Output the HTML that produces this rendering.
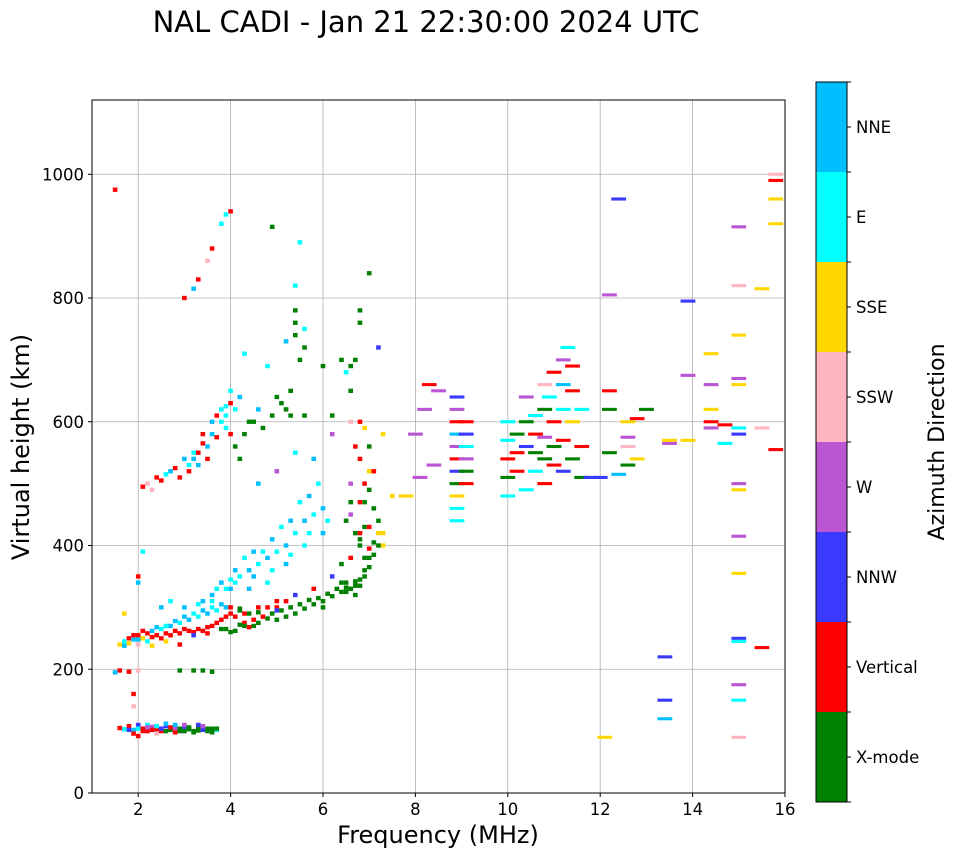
<!DOCTYPE html>
<html><head><meta charset="utf-8">
<style>
html,body{margin:0;padding:0;background:#fff;}
svg{display:block;font-family:"DejaVu Sans","Liberation Sans",sans-serif;}
</style></head>
<body>
<svg id="chart" width="958" height="857" viewBox="0 0 958 857">
<text x="426" y="32" font-size="29" text-anchor="middle">NAL CADI - Jan 21 22:30:00 2024 UTC</text>
<g id="grid"></g>
<g id="marks"></g>
<rect x="92" y="100" width="693" height="693" fill="none" stroke="#000" stroke-width="1"/>
<g id="xticks"></g>
<g id="yticks"></g>
<text x="438" y="843" font-size="24" text-anchor="middle">Frequency (MHz)</text>
<text transform="translate(29,447) rotate(-90)" font-size="24" text-anchor="middle">Virtual height (km)</text>
<g id="cbar"></g>
<text transform="translate(944,442) rotate(-90)" font-size="22" text-anchor="middle">Azimuth Direction</text>
</svg>
<script>
const directions = ["X-mode","Vertical","NNW","W","SSW","SSE","E","NNE"];
const dirColors = ["#008000","#ff0000","#3a3aff","#ba55d3","#ffb6c1","#ffd700","#00ffff","#00bfff"];
const xTicks = [2,4,6,8,10,12,14,16];
const yTicks = [0,200,400,600,800,1000];

const eLayer = [[1.6,105,1],[1.7,103,6],[1.8,108,1],[1.9,102,7],[2.0,110,2],[2.1,104,1],[2.2,100,1],[2.3,107,3],[2.4,103,1],[2.5,100,1],[2.6,108,2],[2.7,102,0],[2.8,105,3],[2.9,100,0],[3.0,107,2],[3.1,103,0],[3.2,100,0],[3.3,105,0],[3.4,102,2],[3.5,100,0],[3.6,104,0],[3.7,102,6],[2.2,110,6],[2.6,112,7],[3.0,110,3],[3.3,110,2],[1.9,96,1],[2.4,96,4],[2.8,98,1],[3.2,98,0],[3.6,98,0],
[1.6,198,1],[1.8,196,1],[2.0,198,4],[2.9,198,0],[3.2,198,0],[3.4,198,0],[3.6,196,0],
[2.1,100,1],[2.3,102,1],[2.5,104,2],[2.7,106,1],[2.9,104,0],[3.1,106,0],[3.3,101,0],[3.5,104,0],[3.7,104,0],[2.0,104,6],[2.4,108,6],[2.8,110,7],[3.4,108,3],[1.8,102,2],[2.2,106,3],[2.6,100,0],[3.0,100,0],[2.0,92,1],[1.9,140,4],[1.9,160,1]];
const fLow = [[1.6,240,5],[1.7,245,6],[1.8,250,1],[1.9,248,7],[2.0,255,1],[2.1,250,5],[2.2,258,1],[2.3,262,7],[2.4,255,1],[2.5,265,6],[2.6,258,1],[2.7,270,7],[2.8,262,1],[2.9,275,6],[3.0,265,1],[3.1,280,7],[3.2,260,1],[3.3,285,6],[3.4,262,1],[3.5,290,7],[3.6,270,1],[3.7,295,6],[3.8,280,1],[3.9,300,7],[2.0,240,4],[2.3,238,5],[2.6,245,5],[2.9,240,1],[3.2,255,2],[3.5,258,1]];
const fDense = [[1.7,238,7],[1.8,242,5],[1.9,255,1],[2.0,248,7],[2.1,262,1],[2.2,245,6],[2.3,252,1],[2.4,268,7],[2.5,250,1],[2.6,270,6],[2.7,255,1],[2.8,278,7],[2.9,258,1],[3.0,285,7],[3.1,262,1],[3.2,290,6],[3.3,265,1],[3.4,295,7],[3.5,268,1],[3.6,300,6],[3.7,275,1],[3.8,305,7],[3.9,285,1],[4.0,290,1],[4.1,285,1],[4.2,295,0],[4.3,275,1],[4.4,290,0],[4.5,280,1],[4.6,292,0],[4.7,285,1],[4.8,300,1],[4.9,290,0],[5.0,300,1],[5.1,295,0],[5.2,310,1],[5.3,300,0],[5.5,305,0],[5.7,312,0],[5.9,315,0],[6.1,322,0],[6.3,330,0],[6.5,332,0],[6.7,342,0],[6.9,360,0],[7.0,380,0],[7.1,405,0],[6.6,330,0],[6.5,325,0],[6.7,335,0],[6.8,345,0],[6.4,340,0],[3.9,265,0],[4.1,262,0],[4.3,270,0],[4.5,270,0],
[3.4,310,7],[3.6,310,6],[3.8,340,7],[4.0,330,7],[4.2,350,6],[4.4,360,7],[4.6,370,6],[4.8,380,7],[5.0,390,6],[5.2,400,7],[5.4,420,6],[5.6,440,7],[5.8,450,6],[6.0,460,7],[3.7,330,6],[4.1,340,6],[4.5,390,7],[4.9,360,6],[5.3,385,6],[5.7,420,6],[6.1,440,6],
[6.9,380,0],[7.0,395,1],[6.8,400,0],[6.9,430,0],[7.1,460,0],[7.0,490,0],[6.8,470,1],[6.6,450,3],[6.7,420,0],[6.5,440,0],[6.6,470,0],[6.9,500,1],[7.2,420,5],[7.3,400,5],[7.0,560,0],[6.8,540,1],
[2.0,340,7],[2.1,390,6],[2.0,350,1],[1.5,195,7],[1.7,290,5],[2.2,500,4],[2.4,510,1],[2.6,515,6],[2.8,525,1],[3.0,540,7],[3.2,550,6],[3.4,565,1],[3.6,580,7],[3.8,600,6],[3.7,610,1],[3.9,625,6],[4.0,580,1],[3.5,540,1],[3.3,530,7],[3.1,520,1]];
const oTrace = [[2.5,300,7],[2.7,310,6],[3.0,300,7],[3.3,305,6],[3.6,320,7],[3.9,330,6],[4.1,360,7],[4.3,380,6],[4.5,350,7],[4.7,390,6],[4.9,410,7],[5.1,430,6],[5.3,440,7],[5.5,470,6],[5.7,480,7],[5.9,500,6],[4.0,345,6],[4.4,330,7],[4.8,340,6],[5.2,370,7],[5.6,400,6],[6.0,420,7]];
const xTrace = [[3.8,265,0],[4.0,260,0],[4.2,272,0],[4.4,268,1],[4.6,275,0],[4.8,282,0],[5.0,280,0],[5.2,285,0],[5.4,290,0],[5.6,298,0],[5.8,305,0],[6.0,310,0],[6.2,318,0],[6.4,325,0],[6.6,330,0],[6.8,335,0],[6.9,350,0],[7.0,365,0],[7.1,385,0],[7.2,400,0],[7.3,420,5],[6.5,340,0],[6.7,320,0],[4.0,300,1],[4.3,290,1],[4.6,300,1],[5.0,310,1],[5.4,320,2],[5.8,330,1],[6.2,350,2],[6.6,380,1],[7.0,430,1],[4.2,298,0],[5.0,295,2],[6.0,300,0],[6.4,370,0],[6.8,410,0],[7.2,440,0],[6.9,470,0],[7.1,520,1],[6.6,500,3],[6.7,560,1],[6.8,420,1]];
const secondHop = [[2.1,495,1],[2.3,490,4],[2.5,505,1],[2.7,520,7],[2.9,510,1],[3.1,530,6],[3.3,550,1],[3.5,560,7],[3.7,575,1],[3.9,590,6],[3.6,600,7],[3.8,620,6],[4.0,630,1],[4.2,640,7],[3.4,580,1],[3.2,540,7],[4.1,560,0],[4.3,580,0],[4.5,600,0],[4.7,590,0],[4.9,610,0],[5.1,630,0],[5.3,650,0],[5.5,700,0],[5.4,780,0],[5.6,720,0],[6.0,690,0],[6.4,700,0],[6.8,780,0],[6.6,650,0],[6.2,610,0],[4.3,710,6],[4.8,690,6],[5.2,730,7],[6.5,680,6],[7.0,840,0],[5.0,640,0],
[1.5,975,1],[3.0,800,1],[3.3,830,1],[3.5,860,4],[3.6,880,1],[3.8,920,6],[4.0,940,1],[3.9,935,6],[5.5,890,6],[5.4,820,6],[4.9,915,0],[3.2,815,7],
[4.6,500,7],[5.0,520,3],[5.4,550,6],[5.8,540,7],[6.2,580,3],[6.6,600,4],[6.9,590,5],[7.3,580,5],[7.0,520,5],[7.5,480,5],[7.8,480,5],[7.2,720,2],[6.8,600,1],[4.2,540,0],[5.6,610,0],
[5.4,760,0],[5.4,740,0],[5.2,620,0],[5.3,610,0],[4.4,600,0],[4.6,620,7],[4.0,650,6],[4.1,620,6],[3.9,610,6],[6.7,700,0],[6.6,690,0],[6.8,760,0],[5.6,750,6]];
const highFreq = [[8.0,580,3],[8.1,510,3],[8.2,620,3],[8.3,660,1],[8.4,530,3],[8.5,650,3],[8.9,640,2],[8.9,620,3],[8.9,600,1],[8.9,580,7],[8.9,560,3],[8.9,540,1],[8.9,520,2],[8.9,500,0],[8.9,480,5],[8.9,460,6],[8.9,440,6],[9.1,600,1],[9.1,560,6],[9.1,540,3],[9.1,520,0],[9.1,500,1],[9.1,580,2],
[10.0,480,6],[10.0,510,0],[10.0,540,1],[10.0,570,6],[10.0,600,6],[10.2,520,1],[10.2,550,1],[10.2,580,0],[10.4,560,2],[10.4,600,0],[10.4,640,3],[10.4,490,6],[10.6,520,6],[10.6,550,0],[10.6,580,1],[10.6,610,6],[10.8,500,1],[10.8,540,0],[10.8,575,3],[10.8,620,0],[10.8,660,4],[11.0,530,1],[11.0,560,0],[11.0,600,1],[11.0,680,1],[11.2,520,2],[11.2,570,1],[11.2,620,6],[11.2,660,7],[11.2,700,3],[11.3,720,6],[11.4,540,0],[11.4,600,5],[11.4,650,1],[11.4,690,1],[11.6,510,0],[11.6,560,1],[11.6,620,6],[10.9,640,6],[11.8,510,2],[12.0,510,2],[12.2,550,0],[12.2,620,0],[12.2,650,1],[12.2,805,3],[12.4,515,7],[12.4,960,2],[12.6,530,0],[12.6,575,3],[12.6,600,5],[12.6,560,4],[12.8,540,5],[12.8,605,1],[13.0,620,0],[13.5,565,3],[13.5,570,5],[13.9,570,5],[13.4,220,2],[13.4,150,2],[13.4,120,7],[13.9,795,2],[13.9,675,3],[14.4,710,5],[14.4,590,3],[14.4,620,5],[14.4,660,3],[14.4,600,1],[14.7,565,6],[14.7,595,1],[15.0,580,2],[15.0,590,6],[15.0,660,5],[15.0,670,3],[15.0,740,5],[15.0,820,4],[15.0,915,3],[15.0,500,3],[15.0,490,5],[15.0,415,3],[15.0,355,5],[15.0,250,2],[15.0,245,6],[15.0,175,3],[15.0,150,6],[15.0,90,4],[15.5,235,1],[15.5,590,4],[15.5,815,5],[15.8,555,1],[15.8,920,5],[15.8,960,5],[15.8,990,1],[15.8,1000,4],[12.1,90,5]];

const NS = "http://www.w3.org/2000/svg";
const X0=92, X1=785, Y0=793, Y1=100;
const xMin=1, xMax=16, yMin=0, yMax=1120;
function xs(f){return X0+(f-xMin)/(xMax-xMin)*(X1-X0);}
function ys(h){return Y0-(h-yMin)/(yMax-yMin)*(Y0-Y1);}
function mk(tag, attrs, parent){const e=document.createElementNS(NS,tag);for(const k in attrs)e.setAttribute(k,attrs[k]);parent.appendChild(e);return e;}

const grid=document.getElementById('grid');
const xt=document.getElementById('xticks');
const yt=document.getElementById('yticks');
xTicks.forEach(v=>{
  const x=xs(v);
  const gl=mk('line',{x1:x,x2:x,y1:Y1,y2:Y0,stroke:'#b0b0b0','stroke-width':0.8},grid);
  
  
  mk('line',{x1:x,x2:x,y1:Y0,y2:Y0+4,stroke:'#000'},xt);
  const t=mk('text',{x:x,y:Y0+22,'font-size':16.5,'text-anchor':'middle'},xt);
  t.textContent=v;
  
  
});
yTicks.forEach(v=>{
  const y=ys(v);
  const gl=mk('line',{x1:X0,x2:X1,y1:y,y2:y,stroke:'#b0b0b0','stroke-width':0.8},grid);
  
  
  mk('line',{x1:X0-4,x2:X0,y1:y,y2:y,stroke:'#000'},yt);
  const t=mk('text',{x:X0-8,y:y+6,'font-size':16.5,'text-anchor':'end'},yt);
  t.textContent=v;
  
  
});

const marks=document.getElementById('marks');
[eLayer,fLow,fDense,oTrace,xTrace,secondHop,highFreq].forEach(arr=>{
  arr.forEach(p=>{
    const f=p[0],h=p[1],d=p[2];
    const wM = f<7.7 ? 0.1 : 0.32;
    const hK = f<7.7 ? 7 : 5;
    const r=mk('rect',{x:xs(f-wM/2),y:ys(h+hK/2),width:xs(f+wM/2)-xs(f-wM/2),height:ys(h-hK/2)-ys(h+hK/2),fill:dirColors[d]},marks);
    
    
  });
});

const cb=document.getElementById('cbar');
const CB_X=816, CB_W=31, CB_TOP=82, CB_BOT=802;
const bandH=(CB_BOT-CB_TOP)/directions.length;
directions.forEach((name,i)=>{
  const yTop=CB_BOT-(i+1)*bandH;
  const r=mk('rect',{x:CB_X,y:yTop,width:CB_W,height:bandH,fill:dirColors[i]},cb);
  
  
  mk('line',{x1:CB_X+CB_W,x2:CB_X+CB_W+4,y1:yTop+bandH/2,y2:yTop+bandH/2,stroke:'#000'},cb);
  const t=mk('text',{x:CB_X+CB_W+9,y:yTop+bandH/2+6,'font-size':16.5},cb);
  t.textContent=name;
  
  
});
for(let i=0;i<=directions.length;i++){
  const y=CB_TOP+i*bandH;
  mk('line',{x1:CB_X+CB_W,x2:CB_X+CB_W+4,y1:y,y2:y,stroke:'#000'},cb);
}
const fr=mk('rect',{x:CB_X,y:CB_TOP,width:CB_W,height:CB_BOT-CB_TOP,fill:'none',stroke:'#000'},cb);


</script>
</body></html>
